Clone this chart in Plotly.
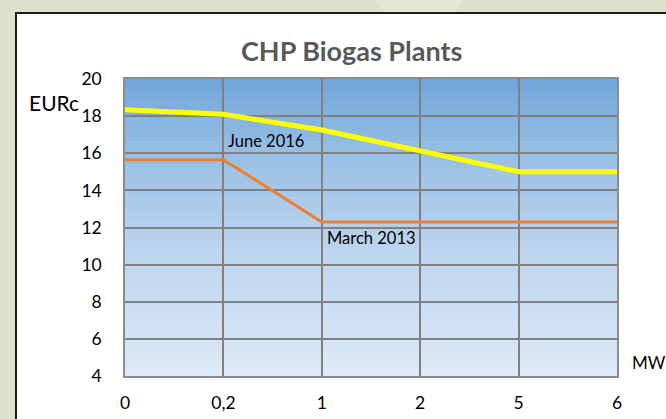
import plotly.graph_objects as go

categories = ["0", "0,2", "1", "2", "5", "6"]
june_2016 = [18.35, 18.1, 17.25, 16.1, 15.0, 15.0]
march_2013 = [15.65, 15.65, 12.3, 12.3, 12.3, 12.3]
y_ticks = [4, 6, 8, 10, 12, 14, 16, 18, 20]

FONT = "Lato"
xpos = list(range(len(categories)))

fig = go.Figure()
fig.add_trace(go.Scatter(x=xpos, y=june_2016, mode="lines", name="June 2016",
                         line=dict(color="#ffff00", width=5), showlegend=False))
fig.add_trace(go.Scatter(x=xpos, y=march_2013, mode="lines", name="March 2013",
                         line=dict(color="#ed7d31", width=3), showlegend=False))

L, T, PW, PH = 125, 79, 492, 297
def px(x):
    return (x - L) / PW
def py(y):
    return (T + PH - y) / PH

shapes = []
# subtle light wedge in outer background
shapes.append(dict(type="path", xref="paper", yref="paper",
                   path="M %f,%f L %f,%f L %f,%f L %f,%f Z" % (px(373), py(-2), px(463), py(-2),
                                                               px(455), py(13), px(385), py(13)),
                   fillcolor="#e4e7d3", line=dict(width=0), layer="below"))
# white panel with dark border
shapes.append(dict(type="rect", xref="paper", yref="paper", x0=px(16), x1=1.2, y0=-0.3, y1=py(13),
                   fillcolor="white", line=dict(color="#1a1a1a", width=2), layer="below"))
# gradient plot background
stops = [(0.0, (111, 165, 216)), (0.25, (150, 191, 228)), (0.5, (181, 208, 236)), (1.0, (222, 234, 247))]
def col(t):
    for (t0, c0), (t1, c1) in zip(stops[:-1], stops[1:]):
        if t0 <= t <= t1:
            f = (t - t0) / (t1 - t0)
            return "rgb(%d,%d,%d)" % tuple(round(a + (b - a) * f) for a, b in zip(c0, c1))
    return "rgb(%d,%d,%d)" % stops[-1][1]
n = 80
for i in range(n):
    t = (i + 0.5) / n
    shapes.append(dict(type="rect", xref="paper", yref="paper", x0=0, x1=1,
                       y0=1 - (i + 1) / n, y1=1 - i / n + 0.002,
                       fillcolor=col(t), line=dict(width=0), layer="below"))

annotations = [
    dict(text="<b>CHP Biogas Plants</b>", xref="paper", yref="paper", x=0.461, y=1.0976,
         showarrow=False, font=dict(family=FONT, size=27, color="#595959"), xanchor="center", yanchor="middle"),
    dict(text="EURc", xref="paper", yref="paper", x=-0.145, y=0.922, showarrow=False,
         font=dict(family=FONT, size=21, color="black"), xanchor="center", yanchor="middle"),
    dict(text="MW", xref="paper", yref="paper", x=1.0264, y=0.047, showarrow=False,
         font=dict(family=FONT, size=17, color="black"), xanchor="left", yanchor="middle"),
    dict(text="June 2016", x=1.43, y=16.66, showarrow=False,
         font=dict(family=FONT, size=16.5, color="black"), xanchor="center", yanchor="middle"),
    dict(text="March 2013", x=2.5, y=11.43, showarrow=False,
         font=dict(family=FONT, size=16.5, color="black"), xanchor="center", yanchor="middle"),
]

fig.update_layout(
    width=666, height=419,
    margin=dict(l=125, r=49, t=79, b=43, autoexpand=False),
    paper_bgcolor="#dee0ca",
    plot_bgcolor="rgba(0,0,0,0)",
    shapes=shapes,
    annotations=annotations,
    showlegend=False,
)
fig.update_xaxes(range=[0, 5], tickvals=xpos, ticktext=categories, showgrid=True,
                 gridcolor="#808080", gridwidth=1.5, showline=True, linecolor="#8c8c8c", linewidth=1.5,
                 mirror=True, zeroline=False, ticks="", ticklabelstandoff=10, automargin=False,
                 tickfont=dict(family=FONT, size=17.5, color="black"))
fig.update_yaxes(range=[4, 20], tickvals=y_ticks, showgrid=True,
                 gridcolor="#808080", gridwidth=1.5, showline=True, linecolor="#8c8c8c", linewidth=1.5,
                 mirror=True, zeroline=False, ticks="", ticklabelstandoff=18, automargin=False,
                 tickfont=dict(family=FONT, size=17.5, color="black"))

fig.write_html("out.html", config={"displayModeBar": False},
               post_script="document.body.style.margin='0';")
